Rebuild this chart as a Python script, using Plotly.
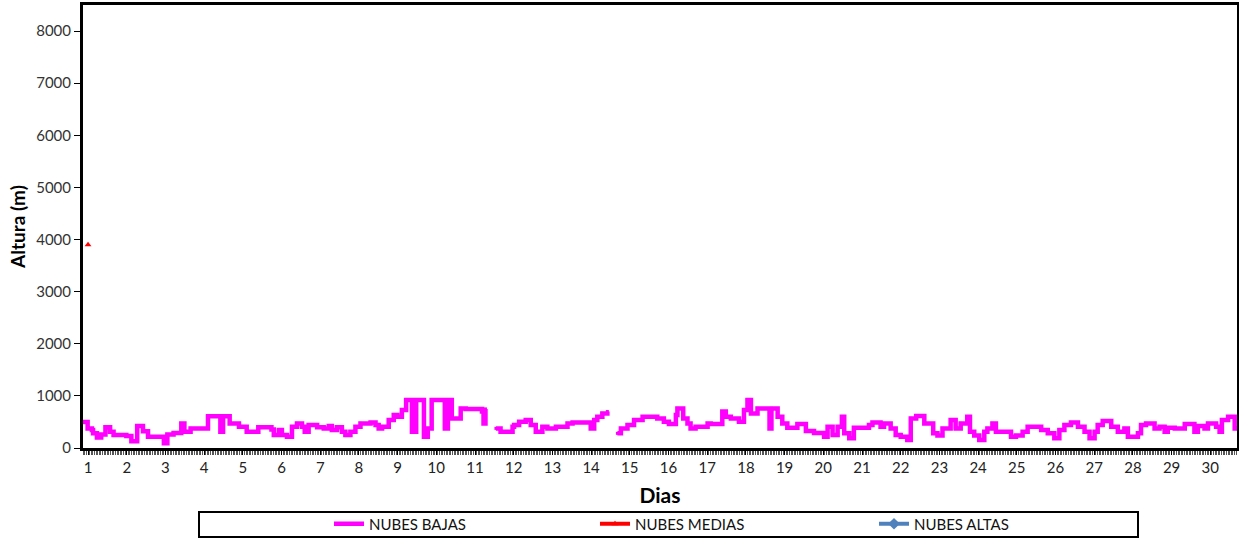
import plotly.graph_objects as go

# ---- Data ----
# NUBES BAJAS: start day of each step and its height (m); None marks a gap
dias_bajas = [
    0.87, 0.99, 1.10, 1.13, 1.23, 1.34, 1.45, 1.57, 1.66, 1.99, 2.12, 2.27, 2.42, 2.55, 2.96,
    3.05, 3.21, 3.41, 3.49, 3.65, 4.10, 4.42, 4.49, 4.66, 4.90, 5.10, 5.40, 5.74,
    5.80, 5.93, 6.01, 6.14, 6.27, 6.40, 6.53, 6.60, 6.70, 6.92, 7.09, 7.22, 7.30, 7.43,
    7.56, 7.65, 7.78, 7.91, 8.04, 8.30, 8.43, 8.51, 8.60, 8.77, 8.90, 8.99, 9.11, 9.22,
    9.37, 9.48, 9.68, 9.78, 9.88, 10.22, 10.30, 10.40, 10.63,
    10.76, 11.18, 11.22, 11.27, 11.49, 11.54, 11.66, 11.97, 12.01, 12.14, 12.31, 12.44,
    12.57, 12.74, 12.87, 13.09, 13.39, 13.52, 13.99, 14.08, 14.16, 14.29, 14.42, 14.60,
    14.68, 14.77, 14.94, 15.11, 15.33,
    15.71, 15.88, 16.01, 16.19, 16.23, 16.38, 16.49, 16.57, 16.70, 17.01, 17.09, 17.39,
    17.48, 17.61, 17.82, 17.95, 18.04, 18.13, 18.30, 18.61, 18.66, 18.82, 18.94, 19.07,
    19.33, 19.55, 19.76, 20.02, 20.11, 20.24, 20.37, 20.48,
    20.54, 20.67, 20.79, 21.18, 21.27, 21.48, 21.57, 21.74, 21.87, 22.00, 22.17, 22.26,
    22.40, 22.61, 22.84, 22.95, 23.08, 23.29, 23.42, 23.55, 23.72, 23.79, 23.90, 24.03,
    24.16, 24.24, 24.37, 24.46, 24.85, 24.98, 25.15, 25.28,
    25.63, 25.80, 25.97, 26.10, 26.23, 26.40, 26.58, 26.75, 26.88, 27.01, 27.09, 27.22,
    27.44, 27.61, 27.78, 27.87, 28.13, 28.21, 28.34, 28.56, 28.69, 28.82, 28.90, 29.08,
    29.34, 29.59, 29.68, 29.85, 29.94, 30.15, 30.24, 30.30, 30.46, 30.63, 30.69,
]
altura_bajas = [
    500, 376, 345, 281, 200, 260, 400, 313, 249, 230, 130, 420, 320, 217, 89,
    260, 290, 470, 313, 376, 610, 313, 610, 470, 408, 313, 400, 355,
    249, 345, 249, 217, 408, 472, 408, 313, 440, 400, 376, 420, 345, 400,
    313, 249, 313, 408, 472, 490, 440, 376, 408, 536, 632, 600, 728, 920,
    313, 920, 217, 376, 920, 376, 920, 568, 760,
    750, 700, 472, 750, None, 376, 313, 408, 440, 504, 536, 440,
    313, 408, 376, 408, 472, 490, 376, 536, 600, 664, 700, None,
    281, 376, 440, 536, 600,
    568, 504, 460, 632, 760, 568, 472, 376, 408, 472, 460, 700,
    600, 568, 504, 728, 920, 664, 760, 376, 760, 600, 472, 390,
    460, 325, 290, 217, 408, 249, 408, 600,
    281, 185, 390, 440, 490, 408, 472, 376, 249, 217, 153, 568,
    616, 472, 281, 240, 376, 536, 376, 472, 600, 313, 240, 153,
    313, 376, 472, 313, 217, 240, 313, 408,
    345, 281, 185, 345, 440, 490, 408, 313, 185, 313, 440, 520,
    408, 313, 376, 217, 281, 440, 472, 376, 408, 313, 390, 376,
    460, 313, 420, 376, 472, 408, 313, 536, 600, 376, 376,
]

# NUBES MEDIAS: single observation
dias_medias = [1.0]
altura_medias = [3900]

# NUBES ALTAS: no observations in the month
dias_altas = [None]
altura_altas = [None]

dia_ticks = list(range(1, 31))
y_ticks = [0, 1000, 2000, 3000, 4000, 5000, 6000, 7000, 8000]

FONT = "Lato, 'Liberation Sans', sans-serif"

fig = go.Figure()
fig.add_trace(go.Scatter(
    x=dias_bajas, y=altura_bajas, name="NUBES BAJAS", mode="lines+markers",
    line=dict(color="#FF00FF", width=4.5, shape="hv"),
    marker=dict(symbol="square", size=3, color="#FF00FF"),
    connectgaps=False, legend="legend",
))
fig.add_trace(go.Scatter(
    x=dias_medias, y=altura_medias, name="NUBES MEDIAS", mode="lines+markers",
    line=dict(color="#FF0000", width=4),
    marker=dict(symbol="triangle-up", size=6, color="#FF0000"),
    legend="legend2",
))
fig.add_trace(go.Scatter(
    x=dias_altas, y=altura_altas, name="NUBES ALTAS", mode="lines+markers",
    line=dict(color="#4F81BD", width=4),
    marker=dict(symbol="diamond", size=9, color="#4F81BD"),
    legend="legend3",
))

W, H = 1239, 539
L, R, T, B = 83, 2, 5, 91
pw, ph = W - L - R, H - T - B

def px_x(p):
    return (p - L) / pw

def px_y(p):
    return (H - B - p) / ph

leg_common = dict(orientation="h", xanchor="left", yanchor="middle",
                  font=dict(family=FONT, size=15, color="#111"),
                  bgcolor="rgba(0,0,0,0)", borderwidth=0)

fig.update_layout(
    width=W, height=H,
    margin=dict(l=L, r=R, t=T, b=B, autoexpand=False),
    paper_bgcolor="white", plot_bgcolor="white",
    font=dict(family=FONT, size=15, color="#222"),
    showlegend=True,
    legend=dict(x=px_x(329), y=px_y(524), **leg_common),
    legend2=dict(x=px_x(595), y=px_y(524), **leg_common),
    legend3=dict(x=px_x(874), y=px_y(524), **leg_common),
    xaxis=dict(
        range=[0.87, 30.69], tickvals=dia_ticks, ticktext=[str(d) for d in dia_ticks],
        showgrid=False, zeroline=False, automargin=False,
        showline=True, linecolor="black", linewidth=3, mirror=True,
        ticks="outside", ticklen=4, tickwidth=1, tickcolor="black",
        minor=dict(dtick=1/24, tick0=1, ticks="outside", ticklen=4, tickwidth=1, tickcolor="#555", showgrid=False),
        tickfont=dict(family=FONT, size=15, color="#222"),
        title=dict(text="<b>Dias</b>", font=dict(family=FONT, size=21, color="black"), standoff=14),
    ),
    yaxis=dict(
        range=[0, 8500], tickvals=y_ticks,
        showgrid=False, zeroline=False, automargin=False,
        showline=True, linecolor="black", linewidth=3, mirror=True,
        ticks="outside", ticklen=6, tickwidth=1, tickcolor="black",
        tickfont=dict(family=FONT, size=15, color="#333"),
        title=dict(text="<b>Altura (m)</b>", font=dict(family=FONT, size=19, color="black"), standoff=6),
    ),
    shapes=[dict(type="rect", xref="paper", yref="paper",
                 x0=px_x(199), x1=px_x(1138), y0=px_y(512), y1=px_y(537),
                 line=dict(color="black", width=2), fillcolor="rgba(0,0,0,0)")],
)

fig.write_html("out.html", config={"displayModeBar": False},
               post_script="document.body.style.margin='0';document.body.style.overflow='hidden';")
